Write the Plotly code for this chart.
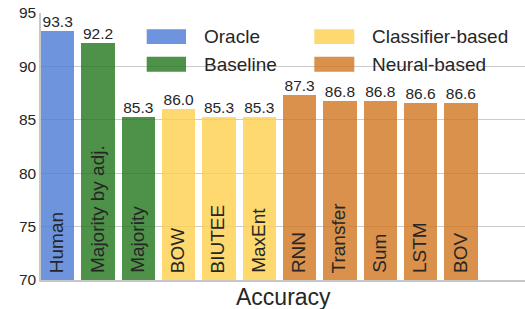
import plotly.graph_objects as go

models = ["Human", "Majority by adj.", "Majority", "BOW", "BIUTEE", "MaxEnt",
          "RNN", "Transfer", "Sum", "LSTM", "BOV"]
accuracy = [93.3, 92.2, 85.3, 86.0, 85.3, 85.3, 87.3, 86.8, 86.8, 86.6, 86.6]
groups = ["Oracle", "Baseline", "Baseline", "Classifier-based", "Classifier-based",
          "Classifier-based", "Neural-based", "Neural-based", "Neural-based",
          "Neural-based", "Neural-based"]
group_names = ["Oracle", "Baseline", "Classifier-based", "Neural-based"]
y_ticks = [70, 75, 80, 85, 90, 95]
y_min = 70

colors = {
    "Oracle": "rgba(72,121,211,0.8)",
    "Baseline": "rgba(34,118,28,0.8)",
    "Classifier-based": "rgba(252,207,75,0.8)",
    "Neural-based": "rgba(207,117,30,0.8)",
}
FONT = "Liberation Sans, Arial, sans-serif"
TXT = "#262626"

xs = list(range(len(models)))

fig = go.Figure()
fig.add_trace(go.Bar(
    x=xs, y=[v - y_min for v in accuracy], base=[y_min] * len(accuracy),
    marker=dict(color=[colors[g] for g in groups], line=dict(width=0)),
    width=0.826,
    showlegend=False, hoverinfo="skip",
))
fig.add_trace(go.Scatter(
    x=xs, y=accuracy, mode="text",
    text=[f"{v:.1f}" for v in accuracy], textposition="top center",
    textfont=dict(family=FONT, size=15.5, color=TXT),
    showlegend=False, hoverinfo="skip", cliponaxis=False,
))

# rotated model names at the base of each bar
for x, name in zip(xs, models):
    fig.add_annotation(x=x, y=y_min, xref="x", yref="y", text=name,
                       textangle=-90, showarrow=False, yanchor="bottom",
                       xanchor="center", yshift=5, xshift=-1,
                       font=dict(family=FONT, size=19, color=TXT))

# manual legend (2 columns x 2 rows)
leg_x = [(0.2184, 0.2996), (0.2184, 0.2996), (0.5647, 0.6473), (0.5647, 0.6473)]
leg_y = [(0.8839, 0.9390), (0.7801, 0.8363), (0.8839, 0.9390), (0.7801, 0.8363)]
txt_x = [0.332, 0.332, 0.6798, 0.6798]
for i, g in enumerate(group_names):
    fig.add_shape(type="rect", xref="paper", yref="paper",
                  x0=leg_x[i][0], x1=leg_x[i][1], y0=leg_y[i][0], y1=leg_y[i][1],
                  fillcolor=colors[g], line=dict(width=0), layer="above")
    fig.add_annotation(xref="paper", yref="paper", x=txt_x[i],
                       y=(leg_y[i][0] + leg_y[i][1]) / 2,
                       text=g, showarrow=False, xanchor="left", yanchor="middle",
                       font=dict(family=FONT, size=19, color=TXT))

fig.add_annotation(xref="paper", yref="paper", x=0.5, y=0, yanchor="top",
                   text="Accuracy", showarrow=False, yshift=-2,
                   font=dict(family=FONT, size=23, color=TXT))

fig.update_layout(
    width=525, height=309,
    margin=dict(l=41, r=0, t=13, b=29),
    paper_bgcolor="white", plot_bgcolor="white",
    font=dict(family=FONT, color=TXT),
    bargap=0,
    xaxis=dict(range=[-0.414, 11.59], showticklabels=False, ticks="",
               showgrid=False, zeroline=False,
               showline=True, linecolor="#c8c8c8", linewidth=1.5),
    yaxis=dict(range=[70, 95], tickvals=y_ticks, ticks="",
               tickfont=dict(family=FONT, size=15.5, color=TXT),
               showgrid=True, gridcolor="#cccccc", gridwidth=1,
               zeroline=False, showline=True, linecolor="#c8c8c8", linewidth=1.5),
)

fig.write_html("out.html", config={"displayModeBar": False},
               post_script="document.body.style.margin='0';document.body.style.padding='0';")
